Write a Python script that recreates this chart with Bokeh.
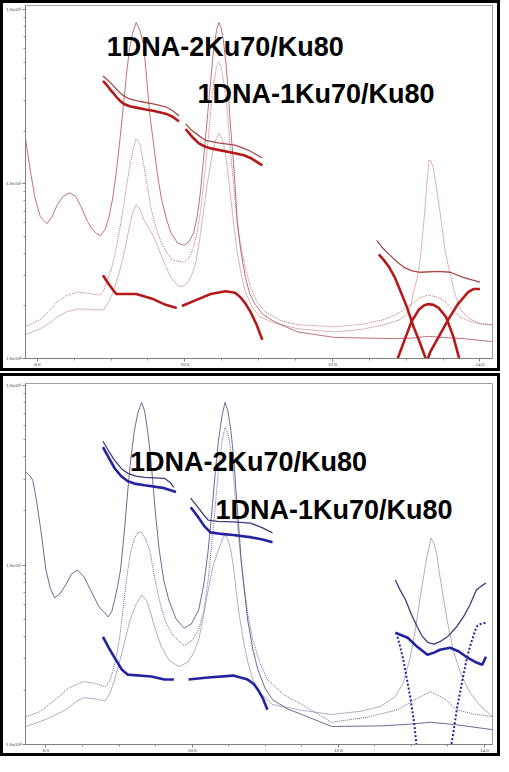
from bokeh.plotting import figure
from bokeh.layouts import column
from bokeh.models import FixedTicker, Label, Range1d
from bokeh.embed import file_html
from bokeh.resources import INLINE

# ---------------- data: elution volume (mL) vs molar mass (g/mol) ----------------
X_TICKS = [8.0, 10.0, 12.0, 14.0]
X_TICK_LABELS = ["8.0", "10.0", "12.0", "14.0"]
X_MINOR = [8.5, 9.0, 9.5, 10.5, 11.0, 11.5, 12.5, 13.0, 13.5]
Y_TICKS = [1e4, 1e5, 1e6]
Y_TICK_LABELS = ["1.0x10\u2074", "1.0x10\u2075", "1.0x10\u2076"]
LABEL_2KU = "1DNA-2Ku70/Ku80"
LABEL_1KU = "1DNA-1Ku70/Ku80"

# --- top panel (red) detector traces ---
TOP_LS = [(7.84,1.82e5),(7.91,1.16e5),(7.97,8.3e4),(8.04,6.5e4),(8.13,5.93e4),(8.20,6.5e4),(8.27,7.6e4),
          (8.35,8.5e4),(8.44,8.9e4),(8.52,8.5e4),(8.60,7.31e4),(8.68,6.1e4),(8.74,5.55e4),(8.80,5.2e4),
          (8.86,5.07e4),(8.92,5.5e4),(8.97,6.41e4),(9.02,8.2e4),(9.07,1.16e5),(9.12,1.8e5),(9.17,2.88e5),
          (9.21,4.3e5),(9.25,5.93e5),(9.29,7.3e5),(9.34,8.43e5),(9.39,7.6e5),(9.44,6.33e5),(9.47,4.6e5),
          (9.50,3.29e5),(9.53,2.4e5),(9.57,1.78e5),(9.62,1.2e5),(9.68,8.32e4),(9.75,6.3e4),(9.81,5.27e4),
          (9.90,4.6e4),(9.99,4.45e4),(10.06,4.7e4),(10.12,5.27e4),(10.17,6.6e4),(10.21,8.90e4),(10.26,1.5e5),
          (10.31,2.53e5),(10.35,3.9e5),(10.39,5.93e5),(10.43,7.6e5),(10.46,8.43e5),(10.49,7.9e5),(10.52,6.76e5),
          (10.56,4.8e5),(10.59,3.29e5),(10.62,2.1e5),(10.66,1.31e5),(10.69,8.5e4),(10.71,6.00e4),(10.76,4.1e4),
          (10.82,2.92e4),(10.88,2.35e4),(10.95,2.05e4),(11.05,1.8e4),(11.22,1.62e4),(11.53,1.42e4),(12.03,1.32e4),
          (12.83,1.30e4),(13.10,1.31e4),(13.30,1.34e4),(13.50,1.32e4),(13.77,1.30e4),(14.17,1.25e4)]
TOP_RI = [(7.84,1.52e4),(8.04,1.67e4),(8.17,1.9e4),(8.27,2.11e4),(8.40,2.3e4),(8.54,2.40e4),(8.65,2.38e4),
          (8.74,2.34e4),(8.85,2.31e4),(8.90,2.45e4),(8.94,2.74e4),(9.00,3.2e4),(9.05,3.90e4),(9.11,5.3e4),
          (9.17,7.50e4),(9.21,9.8e4),(9.25,1.23e5),(9.30,1.6e5),(9.34,1.82e5),(9.39,1.7e5),(9.44,1.31e5),
          (9.49,9.8e4),(9.54,7.31e4),(9.61,5.6e4),(9.68,4.62e4),(9.76,4.0e4),(9.84,3.65e4),(9.99,3.56e4),
          (10.06,3.8e4),(10.12,4.33e4),(10.17,5.4e4),(10.21,6.84e4),(10.26,1.05e5),(10.31,1.71e5),(10.35,2.6e5),
          (10.39,3.75e5),(10.43,4.7e5),(10.46,5.00e5),(10.49,4.7e5),(10.52,4.00e5),(10.56,3.0e5),(10.59,2.22e5),
          (10.62,1.5e5),(10.66,1.01e5),(10.70,6.6e4),(10.75,4.62e4),(10.82,3.3e4),(10.89,2.57e4),(10.98,2.1e4),
          (11.09,1.85e4),(11.30,1.65e4),(11.53,1.56e4),(12.03,1.52e4),(12.40,1.57e4),(12.70,1.67e4),(12.90,1.82e4),
          (13.06,2.03e4),(13.18,2.22e4),(13.30,2.31e4),(13.42,2.25e4),(13.54,2.11e4),(13.64,1.88e4),(13.73,1.73e4),
          (13.85,1.64e4),(14.00,1.58e4),(14.17,1.56e4)]
TOP_UV = [(7.84,1.37e4),(8.04,1.48e4),(8.17,1.6e4),(8.27,1.73e4),(8.40,1.85e4),(8.54,1.92e4),(8.65,1.92e4),
          (8.74,1.90e4),(8.90,1.90e4),(8.98,2.15e4),(9.05,2.57e4),(9.11,3.1e4),(9.17,3.90e4),(9.26,6.00e4),
          (9.30,7.0e4),(9.34,7.60e4),(9.39,7.2e4),(9.45,6.17e4),(9.57,5.07e4),(9.63,4.4e4),(9.70,3.70e4),
          (9.81,2.92e4),(9.91,2.60e4),(9.98,2.6e4),(10.04,2.74e4),(10.10,3.05e4),(10.15,3.56e4),(10.20,4.8e4),
          (10.25,6.84e4),(10.30,9.8e4),(10.35,1.31e5),(10.41,1.75e5),(10.46,1.95e5),(10.51,1.8e5),(10.55,1.50e5),
          (10.59,1.1e5),(10.63,7.80e4),(10.67,5.5e4),(10.71,4.06e4),(10.76,3.1e4),(10.82,2.40e4),(10.92,1.95e4),
          (11.02,1.73e4),(11.25,1.58e4),(11.53,1.48e4),(12.03,1.42e4),(12.40,1.47e4),(12.70,1.56e4),(12.90,1.66e4),
          (13.01,1.78e4),(13.06,2.0e4),(13.10,2.40e4),(13.15,2.9e4),(13.19,3.70e4),(13.22,5.0e4),(13.25,6.84e4),
          (13.28,1.0e5),(13.31,1.37e5),(13.34,1.35e5),(13.37,1.23e5),(13.41,9.5e4),(13.46,6.84e4),(13.53,4.06e4),
          (13.60,3.00e4),(13.66,2.35e4),(13.73,1.92e4),(13.85,1.7e4),(14.00,1.58e4),(14.17,1.56e4)]
# --- top panel molar mass traces ---
TOP_MM_THIN = [
    [(8.89,4.16e5),(8.94,3.98e5),(8.98,3.85e5),(9.03,3.66e5),(9.07,3.51e5),(9.12,3.33e5),(9.17,3.20e5),
     (9.25,3.07e5),(9.34,3.00e5),(9.45,2.94e5),(9.57,2.88e5),(9.74,2.77e5),(9.84,2.62e5),(9.92,2.46e5)],
    [(10.01,2.22e5),(10.08,2.05e5),(10.15,1.95e5),(10.22,1.85e5),(10.28,1.78e5),(10.45,1.72e5),(10.68,1.67e5),
     (10.80,1.60e5),(10.89,1.54e5),(11.05,1.41e5)],
    [(12.60,4.75e4),(12.68,4.3e4),(12.77,3.95e4),(12.87,3.6e4),(12.97,3.33e4),(13.08,3.18e4),(13.19,3.12e4),
     (13.44,3.16e4),(13.60,3.12e4),(13.77,2.92e4),(14.00,2.74e4)],
]
TOP_MM_HEAVY = [
    [(8.89,3.90e5),(8.94,3.70e5),(8.98,3.51e5),(9.03,3.32e5),(9.07,3.16e5),(9.12,3.00e5),(9.17,2.88e5),
     (9.25,2.79e5),(9.34,2.74e5),(9.45,2.68e5),(9.57,2.63e5),(9.74,2.53e5),(9.84,2.42e5),(9.92,2.28e5)],
    [(10.01,2.06e5),(10.10,1.86e5),(10.19,1.71e5),(10.27,1.64e5),(10.35,1.60e5),(10.68,1.50e5),(10.80,1.46e5),
     (10.89,1.41e5),(11.05,1.28e5)],
    [(8.89,3.00e4),(8.94,2.78e4),(8.98,2.63e4),(9.03,2.46e4),(9.07,2.34e4),(9.34,2.34e4),(9.57,2.19e4),
     (9.74,2.03e4),(9.89,1.95e4)],
    [(9.96,2.00e4),(10.15,2.16e4),(10.35,2.34e4),(10.55,2.43e4),(10.68,2.38e4),(10.75,2.25e4),(10.82,2.07e4),
     (10.89,1.85e4),(10.97,1.57e4),(11.05,1.28e4)],
    [(12.63,3.95e4),(12.70,3.65e4),(12.77,3.33e4),(12.84,2.95e4),(12.90,2.57e4),(13.01,1.97e4),(13.10,1.52e4),
     (13.19,1.22e4),(13.28,9.6e3),(13.33,1.10e4),(13.44,1.33e4),(13.57,1.67e4),(13.70,2.05e4),(13.84,2.40e4),
     (13.91,2.50e4),(14.00,2.50e4)],
    [(12.87,9.6e3),(12.97,1.25e4),(13.07,1.62e4),(13.17,1.90e4),(13.24,2.01e4),(13.30,2.05e4),(13.37,2.03e4),
     (13.44,1.95e4),(13.54,1.73e4),(13.64,1.33e4),(13.73,9.6e3)],
]

# --- bottom panel (blue) detector traces ---
BOT_LS = [(7.73,3.29e5),(7.78,3.15e5),(7.82,2.96e5),(7.87,2.3e5),(7.93,1.56e5),(8.00,9.38e4),(8.06,7.4e4),
          (8.12,6.56e4),(8.19,6.9e4),(8.27,7.74e4),(8.35,8.9e4),(8.43,9.38e4),(8.52,8.6e4),(8.61,7.26e4),
          (8.72,5.9e4),(8.85,5.14e4),(8.90,5.5e4),(8.94,6.40e4),(8.98,7.6e4),(9.02,9.38e4),(9.07,1.5e5),
          (9.12,2.61e5),(9.16,3.9e5),(9.21,5.62e5),(9.26,7.1e5),(9.31,8.05e5),(9.35,7.2e5),(9.39,5.62e5),
          (9.43,4.1e5),(9.46,2.96e5),(9.50,1.9e5),(9.55,1.21e5),(9.61,8.3e4),(9.68,6.40e4),(9.78,5.0e4),
          (9.89,4.45e4),(9.99,4.7e4),(10.09,5.62e4),(10.16,7.8e4),(10.22,1.21e5),(10.28,2.2e5),(10.32,3.4e5),
          (10.36,4.94e5),(10.41,6.8e5),(10.45,8.05e5),(10.49,7.2e5),(10.53,5.62e5),(10.57,3.9e5),(10.60,2.61e5),
          (10.64,1.6e5),(10.67,1.07e5),(10.72,6.9e4),(10.76,4.94e4),(10.83,3.4e4),(10.90,2.61e4),(11.00,2.05e4),
          (11.10,1.78e4),(11.30,1.58e4),(11.50,1.47e4),(11.91,1.26e4),(12.60,1.27e4),(13.00,1.30e4),(13.26,1.33e4),
          (13.60,1.29e4),(14.11,1.21e4)]
BOT_RI = [(7.73,1.43e4),(7.91,1.52e4),(8.13,1.78e4),(8.30,2.05e4),(8.51,2.24e4),(8.66,2.2e4),(8.81,2.10e4),
          (8.87,2.25e4),(8.92,2.61e4),(8.97,3.2e4),(9.01,3.98e4),(9.06,5.9e4),(9.12,9.38e4),(9.16,1.18e5),
          (9.21,1.41e5),(9.26,1.52e5),(9.31,1.52e5),(9.36,1.4e5),(9.42,1.21e5),(9.48,8.8e4),(9.55,6.40e4),
          (9.63,4.9e4),(9.73,4.08e4),(9.89,3.55e4),(10.00,3.8e4),(10.09,4.35e4),(10.16,5.6e4),(10.22,8.25e4),
          (10.29,1.6e5),(10.36,3.37e5),(10.41,4.9e5),(10.45,5.85e5),(10.49,5.4e5),(10.53,4.35e5),(10.57,3.0e5),
          (10.60,2.02e5),(10.65,1.25e5),(10.70,8.25e4),(10.76,5.4e4),(10.83,3.83e4),(10.92,2.9e4),(11.03,2.30e4),
          (11.25,1.9e4),(11.50,1.67e4),(11.91,1.33e4),(12.40,1.42e4),(12.81,1.56e4),(13.05,1.78e4),(13.26,1.97e4),
          (13.45,1.8e4),(13.62,1.56e4),(13.85,1.48e4),(14.11,1.43e4)]
BOT_UV = [(7.73,1.26e4),(8.00,1.38e4),(8.27,1.56e4),(8.40,1.72e4),(8.51,1.82e4),(8.66,1.8e4),(8.81,1.75e4),
          (8.88,1.95e4),(8.94,2.30e4),(9.04,3.24e4),(9.15,4.94e4),(9.23,6.0e4),(9.31,6.81e4),(9.38,6.3e4),
          (9.44,5.27e4),(9.51,4.2e4),(9.58,3.50e4),(9.68,2.96e4),(9.82,2.71e4),(9.95,2.89e4),(10.03,3.3e4),
          (10.09,3.83e4),(10.16,5.3e4),(10.22,7.26e4),(10.29,1.0e5),(10.36,1.21e5),(10.41,1.38e5),(10.45,1.47e5),
          (10.49,1.38e5),(10.53,1.21e5),(10.57,9.5e4),(10.60,7.26e4),(10.65,5.1e4),(10.70,3.83e4),(10.76,2.9e4),
          (10.83,2.30e4),(10.95,1.9e4),(11.10,1.67e4),(11.50,1.55e4),(11.91,1.47e4),(12.30,1.53e4),(12.58,1.63e4),
          (12.78,1.85e4),(12.89,2.21e4),(12.98,3.0e4),(13.04,4.0e4),(13.08,5.14e4),(13.12,6.6e4),(13.16,8.25e4),
          (13.21,1.1e5),(13.27,1.41e5),(13.31,1.32e5),(13.35,1.14e5),(13.38,9.2e4),(13.42,7.26e4),(13.49,4.9e4),
          (13.57,3.37e4),(13.68,2.45e4),(13.80,1.95e4),(13.95,1.63e4),(14.11,1.43e4)]
BOT_MM_THIN = [
    [(8.78,4.89e5),(8.86,4.3e5),(8.94,3.83e5),(9.03,3.45e5),(9.12,3.24e5),(9.23,3.13e5),(9.35,3.08e5),
     (9.62,3.04e5),(9.70,2.88e5),(9.75,2.71e5)],
    [(9.98,2.36e5),(10.04,2.2e5),(10.09,2.07e5),(10.16,1.90e5),(10.22,1.78e5),(10.35,1.75e5),(10.56,1.74e5),
     (10.80,1.71e5),(10.95,1.62e5),(11.10,1.51e5)],
    [(12.78,8.25e4),(12.85,7.2e4),(12.92,6.40e4),(13.00,5.3e4),(13.08,4.53e4),(13.15,4.0e4),(13.23,3.69e4),
     (13.31,3.62e4),(13.39,3.74e4),(13.50,4.0e4),(13.62,4.53e4),(13.72,5.2e4),(13.80,5.99e4),(13.89,7.26e4),
     (13.95,7.6e4),(14.02,7.94e4)],
]
BOT_MM_HEAVY = [
    [(8.78,4.53e5),(8.86,3.95e5),(8.94,3.46e5),(9.03,3.12e5),(9.12,2.93e5),(9.23,2.83e5),(9.35,2.78e5),
     (9.62,2.68e5),(9.78,2.55e5)],
    [(9.98,2.10e5),(10.04,1.95e5),(10.09,1.83e5),(10.17,1.64e5),(10.25,1.52e5),(10.40,1.49e5),(10.56,1.47e5),
     (10.79,1.43e5),(10.95,1.39e5),(11.10,1.34e5)],
    [(8.78,3.98e4),(8.86,3.45e4),(8.94,3.04e4),(9.04,2.61e4),(9.12,2.45e4),(9.44,2.39e4),(9.62,2.30e4),
     (9.75,2.30e4)],
    [(9.95,2.30e4),(10.22,2.36e4),(10.56,2.42e4),(10.76,2.30e4),(10.84,2.18e4),(10.90,2.02e4),(10.97,1.8e4),
     (11.03,1.56e4)],
    [(12.78,4.19e4),(12.95,3.93e4),(13.08,3.5e4),(13.22,3.16e4),(13.31,3.25e4),(13.39,3.37e4),(13.53,3.46e4),
     (13.65,3.3e4),(13.75,3.08e4),(13.89,2.86e4),(13.97,2.78e4),(14.02,3.08e4)],
]
BOT_MM_DOTTED = [
    [(12.81,3.98e4),(12.85,3.45e4),(12.89,2.96e4),(12.94,2.3e4),(12.99,1.78e4),(13.04,1.3e4),(13.08,9.1e3)],
    [(13.53,9.1e3),(13.58,1.2e4),(13.62,1.56e4),(13.70,2.30e4),(13.75,2.9e4),(13.80,3.50e4),(13.89,4.53e4),
     (13.95,4.7e4),(14.02,4.76e4)],
]

Y_MINOR = [k * 1e4 for k in range(2, 10)] + [k * 1e5 for k in range(2, 10)]


def xs(pts):
    return [a for a, b in pts]


def ys(pts):
    return [b for a, b in pts]


def make_panel(w, h, xr, yr, borders, ls, ri, uv, mm_thin, mm_heavy, mm_dotted,
               thin_col, heavy_col, lab1, lab2):
    p = figure(width=w, height=h, x_range=Range1d(*xr), y_range=Range1d(*yr),
               y_axis_type="log", output_backend="svg", toolbar_location=None,
               min_border_left=borders[0], min_border_right=borders[1],
               min_border_top=borders[2], min_border_bottom=borders[3])
    p.styles = {"border": "3px solid #000000"}
    p.xgrid.visible = False
    p.ygrid.visible = False
    p.outline_line_color = "#a0a0a0"
    p.background_fill_color = "white"
    p.border_fill_color = "white"

    p.xaxis.ticker = FixedTicker(ticks=X_TICKS, minor_ticks=X_MINOR)
    p.xaxis.major_label_overrides = dict(zip(X_TICKS, X_TICK_LABELS))
    p.yaxis.ticker = FixedTicker(ticks=Y_TICKS, minor_ticks=Y_MINOR)
    p.yaxis.major_label_overrides = dict(zip(Y_TICKS, Y_TICK_LABELS))
    for ax in (p.xaxis, p.yaxis):
        ax.axis_line_color = "#808080"
        ax.major_tick_line_color = "#808080"
        ax.minor_tick_line_color = "#909090"
        ax.major_tick_in = 0
        ax.major_tick_out = 3
        ax.minor_tick_in = 0
        ax.minor_tick_out = 2
        ax.major_label_text_font = "Liberation Serif"
        ax.major_label_text_font_size = "5px"
        ax.major_label_text_color = "#333333"
        ax.major_label_standoff = 1

    p.line(xs(ls), ys(ls), line_color=thin_col, line_width=0.9, line_alpha=0.85)
    p.line(xs(ri), ys(ri), line_color=thin_col, line_width=0.9, line_alpha=0.85, line_dash="1 1")
    p.line(xs(uv), ys(uv), line_color=thin_col, line_width=0.7, line_alpha=0.6)
    for seg in mm_thin:
        p.line(xs(seg), ys(seg), line_color=thin_col, line_width=1.3)
    for seg in mm_heavy:
        p.line(xs(seg), ys(seg), line_color=heavy_col, line_width=2.6)
    for seg in mm_dotted:
        p.line(xs(seg), ys(seg), line_color=heavy_col, line_width=2.0, line_dash="2 2")

    for (lx, ly, txt) in (lab1, lab2):
        p.add_layout(Label(x=lx, y=ly, text=txt, text_font="Liberation Sans",
                           text_font_size="27px", text_font_style="bold",
                           text_color="black", text_baseline="alphabetic"))
    return p


# outer sizes include the 3px frame; the canvas is inset by it
top = make_panel(500, 371, (7.84, 14.17), (1e4, 1.054e6), (18, 11, 2, 16),
                 TOP_LS, TOP_RI, TOP_UV, TOP_MM_THIN, TOP_MM_HEAVY, [],
                 "#a84848", "#b51a1a",
                 (8.94, 6.08e5, LABEL_2KU), (10.17, 3.29e5, LABEL_1KU))
bot = make_panel(500, 383, (7.72, 14.11), (1e4, 1.026e6), (19, 8, 7, 15),
                 BOT_LS, BOT_RI, BOT_UV, BOT_MM_THIN, BOT_MM_HEAVY, BOT_MM_DOTTED,
                 "#3c3c7a", "#2323a0",
                 (9.15, 3.73e5, LABEL_2KU), (10.32, 2.02e5, LABEL_1KU))

layout = column(top, bot, spacing=2)
open("out.html", "w").write(file_html(layout, INLINE))
